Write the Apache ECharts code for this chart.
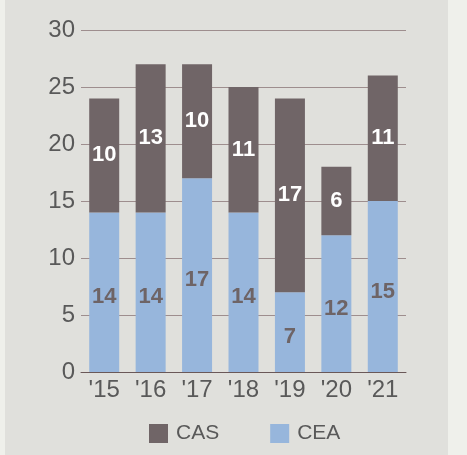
<!DOCTYPE html>
<html>
<head>
<meta charset="utf-8">
<script src="https://cdn.jsdelivr.net/npm/echarts@6/dist/echarts.min.js"></script>
<style>
    html, body { margin: 0; padding: 0; background: #eff0eb; }
    #panel { position: absolute; left: 5px; top: 0; width: 443px; height: 455px; background: #e0e0dc; }
    #mainChart { position: absolute; left: 0; top: 0; width: 467px; height: 455px; }
</style>
</head>
<body>
<div id="panel"></div>
<div id="mainChart"></div>
<script>
const years = ["'15", "'16", "'17", "'18", "'19", "'20", "'21"];
const ceaValues = [14, 14, 17, 14, 7, 12, 15];
const casValues = [10, 13, 10, 11, 17, 6, 11];

const myChart = echarts.init(document.getElementById('mainChart'));
const option = {
    backgroundColor: 'transparent',
    textStyle: { fontFamily: 'Liberation Sans, Arial, sans-serif' },
    grid: { left: 81, right: 61, top: 30, bottom: 83 },
    legend: {
        top: 418,
        left: 144,
        itemWidth: 19,
        itemHeight: 19,
        itemGap: 51,
        icon: 'rect',
        textStyle: { fontSize: 21, color: '#595959', padding: [0, 0, 0, 3] },
        data: ['CAS', 'CEA']
    },
    xAxis: {
        type: 'category',
        data: years,
        axisLine: { lineStyle: { color: '#6a5858', width: 1 } },
        axisTick: { show: false },
        axisLabel: { fontSize: 24, color: '#595959', margin: 6 }
    },
    yAxis: {
        type: 'value',
        min: 0,
        max: 30,
        interval: 5,
        axisLine: { show: false },
        axisTick: { show: false },
        splitLine: { lineStyle: { color: '#9e8e8e', width: 1 } },
        axisLabel: { fontSize: 24, color: '#595959', margin: 6 }
    },
    series: [
        {
            name: 'CEA',
            type: 'bar',
            stack: 'total',
            barWidth: 30,
            data: ceaValues,
            itemStyle: { color: '#97b6dc' },
            label: { show: true, position: 'inside', offset: [0, 5], fontSize: 22, fontWeight: 'bold', color: '#6e6466' }
        },
        {
            name: 'CAS',
            type: 'bar',
            stack: 'total',
            barWidth: 30,
            data: casValues,
            itemStyle: { color: '#706567' },
            label: { show: true, position: 'inside', fontSize: 22, fontWeight: 'bold', color: '#ffffff' }
        }
    ]
};
myChart.setOption(option);
</script>
</body>
</html>
